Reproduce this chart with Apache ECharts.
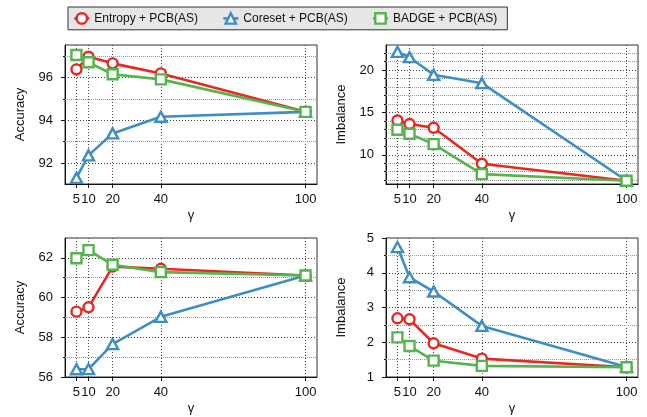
<!DOCTYPE html>
<html>
<head>
<meta charset="utf-8">
<script src="https://cdn.jsdelivr.net/npm/echarts@6/dist/echarts.min.js"></script>
<style>
html,body{margin:0;padding:0;background:#fff;}
#c{width:647px;height:417px;}
</style>
</head>
<body>
<div id="c"></div>
<script>
// ---- data ----
const gammas = [5, 10, 20, 40, 100];
const seriesNames = ['Entropy + PCB(AS)', 'Coreset + PCB(AS)', 'BADGE + PCB(AS)'];

const accTopEntropy = [96.39, 96.98, 96.67, 96.20, 94.40];
const accTopCoreset = [91.31, 92.36, 93.39, 94.17, 94.40];
const accTopBadge   = [97.06, 96.72, 96.16, 95.92, 94.40];

const imbTopEntropy = [14.06, 13.63, 13.19, 8.94, 6.93];
const imbTopCoreset = [22.16, 21.53, 19.45, 18.46, 6.93];
const imbTopBadge   = [12.96, 12.48, 11.26, 7.72, 6.93];

const accBotEntropy = [59.29, 59.51, 61.56, 61.45, 61.11];
const accBotCoreset = [56.39, 56.40, 57.66, 59.03, 61.11];
const accBotBadge   = [61.98, 62.39, 61.65, 61.28, 61.11];

const imbBotEntropy = [2.69, 2.66, 1.97, 1.53, 1.28];
const imbBotCoreset = [4.74, 3.87, 3.46, 2.47, 1.29];
const imbBotBadge   = [2.14, 1.89, 1.47, 1.32, 1.28];

const xTicks = [5, 10, 20, 40, 100];
const accTopTicks = [92, 94, 96];
const accTopMinor = [93, 95, 97];
const imbTopTicks = [10, 15, 20];
const imbTopMinor = [7, 8, 9, 11, 12, 13, 14, 16, 17, 18, 19, 21, 22];
const accBotTicks = [56, 58, 60, 62];
const accBotMinor = [57, 59, 61];
const imbBotTicks = [1, 2, 3, 4, 5];
const imbBotMinor = [1.5, 2.5, 3.5, 4.5];

// ---- styling ----
const colors = ['#e8281f', '#3d8dc6', '#55b44d'];
const symbols = ['circle', 'triangle', 'rect'];
const FONT = "'Liberation Sans', Arial, Helvetica, sans-serif";

const panels = [
  {grid: {left: 65, top: 45, width: 252, height: 139}, ymin: 91.02, ymax: 97.53, yName: 'Accuracy',
   ticks: accTopTicks, minor: accTopMinor, data: [accTopEntropy, accTopCoreset, accTopBadge]},
  {grid: {left: 386, top: 45, width: 252, height: 139}, ymin: 6.55, ymax: 22.97, yName: 'Imbalance',
   ticks: imbTopTicks, minor: imbTopMinor, data: [imbTopEntropy, imbTopCoreset, imbTopBadge]},
  {grid: {left: 65, top: 238, width: 252, height: 139}, ymin: 56, ymax: 63, yName: 'Accuracy',
   ticks: accBotTicks, minor: accBotMinor, data: [accBotEntropy, accBotCoreset, accBotBadge]},
  {grid: {left: 386, top: 238, width: 252, height: 139}, ymin: 1, ymax: 5, yName: 'Imbalance',
   ticks: imbBotTicks, minor: imbBotMinor, data: [imbBotEntropy, imbBotCoreset, imbBotBadge]}
];

const grid = [], xAxis = [], yAxis = [], series = [];
panels.forEach((p, i) => {
  grid.push(Object.assign({show: true, borderColor: '#333', borderWidth: 1, backgroundColor: 'transparent'}, p.grid));
  xAxis.push({
    type: 'value', gridIndex: i, min: 0.25, max: 104.75,
    name: 'γ', nameLocation: 'middle', nameGap: 25,
    nameTextStyle: {fontFamily: FONT, fontSize: 13, color: '#111'},
    axisLine: {show: true, onZero: false, lineStyle: {color: '#111', width: 1}},
    axisTick: {show: true, inside: false, length: 4, customValues: xTicks, lineStyle: {color: '#111'}},
    axisLabel: {show: true, margin: 9, customValues: xTicks, fontFamily: FONT, fontSize: 13, color: '#111'},
    splitLine: {show: false}
  });
  yAxis.push({
    type: 'value', gridIndex: i, min: p.ymin, max: p.ymax, position: 'left',
    name: p.yName, nameLocation: 'middle', nameGap: 38, nameRotate: 90,
    nameTextStyle: {fontFamily: FONT, fontSize: 13, color: '#111'},
    axisLine: {show: true, onZero: false, lineStyle: {color: '#111', width: 1}},
    axisTick: {show: true, inside: false, length: 4, customValues: p.ticks, lineStyle: {color: '#111'}},
    axisLabel: {show: true, margin: 12, customValues: p.ticks, fontFamily: FONT, fontSize: 13, color: '#111',
                showMinLabel: true, showMaxLabel: true},
    splitLine: {show: false}
  });
  yAxis.push({
    type: 'value', gridIndex: i, min: p.ymin, max: p.ymax, position: 'left', offset: 0,
    axisLine: {show: false},
    axisTick: {show: true, inside: false, length: 2, customValues: p.minor, lineStyle: {color: '#111'}},
    axisLabel: {show: false},
    splitLine: {show: false}
  });
  const gridLines = [];
  xTicks.forEach(v => gridLines.push({xAxis: v, lineStyle: {color: '#444', type: [1, 2], width: 1}}));
  p.ticks.forEach(v => { if (v > p.ymin && v < p.ymax) gridLines.push({yAxis: v, lineStyle: {color: '#444', type: [1, 2], width: 1}}); });
  p.minor.forEach(v => { if (v > p.ymin && v < p.ymax) gridLines.push({yAxis: v, lineStyle: {color: '#999', type: [1, 1], width: 1}}); });

  p.data.forEach((vals, k) => {
    const s = {
      name: seriesNames[k], type: 'line', xAxisIndex: i, yAxisIndex: i * 2,
      data: gammas.map((g, j) => [g, vals[j]]),
      symbol: symbols[k], symbolSize: k === 1 ? [11, 10] : 10, showSymbol: true,
      lineStyle: {color: colors[k], width: 2.6},
      itemStyle: {color: '#fff', borderColor: colors[k], borderWidth: 2.4},
      color: colors[k],
      z: 3 + k, animation: false, silent: true, clip: false
    };
    if (k === 0) {
      s.markLine = {silent: true, symbol: ['none', 'none'], label: {show: false}, z: 1, animation: false,
                    data: gridLines};
    }
    series.push(s);
  });
});

const chart = echarts.init(document.getElementById('c'), null, {renderer: 'canvas'});
chart.setOption({
  animation: false,
  color: colors,
  legend: {
    left: 68, top: 7,
    padding: [5, 10, 5, 5],
    itemWidth: 15, itemHeight: 13, itemGap: 24,
    backgroundColor: '#e6e6e6', borderColor: '#333', borderWidth: 1, borderRadius: 0,
    textStyle: {fontFamily: FONT, fontSize: 12, color: '#111'},
    data: seriesNames.map((n, k) => ({name: n, itemStyle: {color: '#fff', borderColor: colors[k], borderWidth: 2.4}, lineStyle: {color: colors[k], width: 2.6}}))
  },
  grid, xAxis, yAxis, series
});
</script>
</body>
</html>
